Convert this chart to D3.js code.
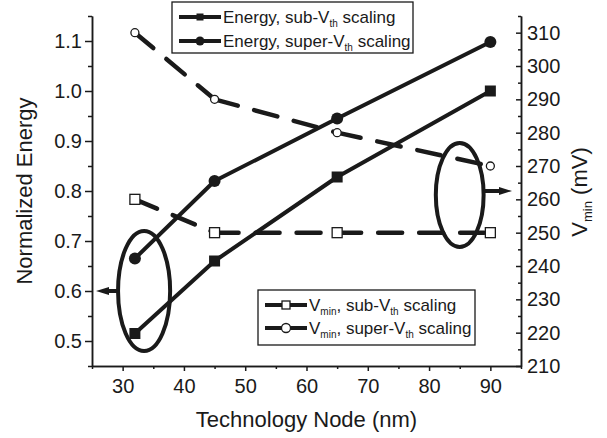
<!DOCTYPE html>
<html>
<head>
<meta charset="utf-8">
<script src="https://cdn.jsdelivr.net/npm/d3@7"></script>
<style>
body { margin: 0; background: #fff; }
svg { font-family: Arial, 'Liberation Sans', sans-serif; }
.axis path, .axis line { stroke: #1a1a1a; stroke-width: 1.5px; }
.axis text { font-size: 20px; fill: #1a1a1a; }
.legend-text { font-size: 17px; fill: #1a1a1a; }
.axis-title { font-size: 22px; fill: #1a1a1a; }
</style>
</head>
<body>
<svg width="607" height="438"></svg>
<script>
//Data.
var nodes = [32, 45, 65, 90];
var energySub = [0.515, 0.66, 0.828, 1.0];
var energySuper = [0.665, 0.82, 0.945, 1.098];
var vminSub = [260, 250, 250, 250];
var vminSuper = [310, 290, 280, 270];

//Tick values.
var xTicks = [30, 40, 50, 60, 70, 80, 90];
var energyTicks = [0.5, 0.6, 0.7, 0.8, 0.9, 1.0, 1.1];
var vminTicks = [210, 220, 230, 240, 250, 260, 270, 280, 290, 300, 310];

//Annotation ellipses, in data units (left one on the energy scale, right one on the Vmin scale).
var leftOval = {x: 33.5, rx: 4.25, y: 0.6, ry: 0.12};
var rightOval = {x: 85.0, rx: 3.9, y: 261.3, ry: 15.6};
var leftArrowY = 0.6, rightArrowY = 262.5;

var svg = d3.select('svg'),
	width = +svg.attr('width'), height = +svg.attr('height');
var margin = {top: 16, right: 86, bottom: 72, left: 92};
var widthInner = width - margin.left - margin.right,
	heightInner = height - margin.top - margin.bottom;
var inner = svg.append('g')
	.attr('transform', 'translate(' + margin.left + ',' + margin.top + ')');

var ink = '#1a1a1a';

//Scales.
var xScale = d3.scaleLinear().domain([25, 95]).range([0, widthInner]);
var yE = d3.scaleLinear().domain([0.45, 1.15]).range([heightInner, 0]);
var yV = d3.scaleLinear().domain([210, 315]).range([heightInner, 0]);

//Minor ticks sit halfway between the majors.
function minors(lo, hi, step, majors) {
	return d3.range(lo, hi + step / 2, step).filter(function(v) {
		return !majors.some(function(m) { return Math.abs(m - v) < step / 10; });
	});
}

//Axes: left (ticks out), bottom (ticks out), right (ticks in).
inner.append('g').attr('class', 'axis')
	.call(d3.axisLeft(yE).tickValues(minors(0.45, 1.15, 0.05, energyTicks)).tickSize(4).tickSizeOuter(0).tickFormat(''));
inner.append('g').attr('class', 'axis')
	.call(d3.axisLeft(yE).tickValues(energyTicks).tickSize(7).tickSizeOuter(0).tickPadding(3).tickFormat(d3.format('.1f')));

var xg = inner.append('g').attr('transform', 'translate(0,' + heightInner + ')');
xg.append('g').attr('class', 'axis')
	.call(d3.axisBottom(xScale).tickValues(minors(25, 95, 5, xTicks)).tickSize(3).tickSizeOuter(0).tickFormat(''));
xg.append('g').attr('class', 'axis')
	.call(d3.axisBottom(xScale).tickValues(xTicks).tickSize(5).tickSizeOuter(0).tickPadding(8));

var rg = inner.append('g').attr('transform', 'translate(' + widthInner + ',0)');
rg.append('g').attr('class', 'axis')
	.call(d3.axisRight(yV).tickValues(minors(210, 315, 5, vminTicks)).tickSize(-3).tickSizeOuter(0).tickFormat(''));
rg.append('g').attr('class', 'axis')
	.call(d3.axisRight(yV).tickValues(vminTicks).tickSize(-5).tickSizeOuter(0).tickPadding(6));

//Dashed Vmin series: each segment starts its own dash pattern at a point.
function dashedSeries(vals) {
	for (var i = 0; i < vals.length - 1; ++i) {
		inner.append('line')
			.attr('x1', xScale(nodes[i])).attr('y1', yV(vals[i]))
			.attr('x2', xScale(nodes[i + 1])).attr('y2', yV(vals[i + 1]))
			.style('stroke', ink).style('stroke-width', 4.5)
			.style('stroke-linecap', 'round')
			.style('stroke-dasharray', '24,17');
	}
}
dashedSeries(vminSub);
dashedSeries(vminSuper);

//Solid energy series.
var line = d3.line();
function solidSeries(vals) {
	inner.append('path')
		.attr('d', line(nodes.map(function(n, i) { return [xScale(n), yE(vals[i])]; })))
		.style('fill', 'none').style('stroke', ink).style('stroke-width', 4)
		.style('stroke-linejoin', 'round');
}
solidSeries(energySub);
solidSeries(energySuper);

//Markers.
function marker(g, kind, cx, cy, size) {
	if (kind === 'square' || kind === 'osquare') {
		g.append('rect')
			.attr('x', cx - size / 2).attr('y', cy - size / 2)
			.attr('width', size).attr('height', size)
			.style('fill', kind === 'square' ? ink : '#fff')
			.style('stroke', ink).style('stroke-width', kind === 'square' ? 0 : 1.3);
	} else {
		g.append('circle')
			.attr('cx', cx).attr('cy', cy).attr('r', size / 2)
			.style('fill', kind === 'circle' ? ink : '#fff')
			.style('stroke', ink).style('stroke-width', kind === 'circle' ? 0 : 1.3);
	}
}
nodes.forEach(function(n, i) {
	marker(inner, 'osquare', xScale(n), yV(vminSub[i]), 10);
	marker(inner, 'ocircle', xScale(n), yV(vminSuper[i]), 8);
	marker(inner, 'square', xScale(n), yE(energySub[i]), 11);
	marker(inner, 'circle', xScale(n), yE(energySuper[i]), 12);
});

//Ellipses and arrows pointing to each axis.
function oval(o, yS) {
	var cy = yS(o.y);
	inner.append('ellipse')
		.attr('cx', xScale(o.x)).attr('cy', cy)
		.attr('rx', xScale(o.x + o.rx) - xScale(o.x))
		.attr('ry', yS(o.y - o.ry) - cy)
		.style('fill', 'none').style('stroke', ink).style('stroke-width', 4);
}
oval(leftOval, yE);
oval(rightOval, yV);

function arrow(x1, x2, y) {
	var dir = x2 > x1 ? 1 : -1;
	inner.append('line')
		.attr('x1', x1).attr('x2', x2 - dir * 8).attr('y1', y).attr('y2', y)
		.style('stroke', ink).style('stroke-width', 4);
	inner.append('path')
		.attr('d', 'M' + x2 + ',' + y + 'L' + (x2 - dir * 13) + ',' + (y - 4) + 'L' + (x2 - dir * 13) + ',' + (y + 4) + 'Z')
		.style('fill', ink);
}
arrow(xScale(leftOval.x - leftOval.rx), xScale(25) + 4, yE(leftArrowY));
arrow(xScale(rightOval.x + rightOval.rx), xScale(95) - 9, yV(rightArrowY));

//Legends.
function legendText(g, x, y, parts) {
	var t = g.append('text').attr('class', 'legend-text').attr('x', x).attr('y', y);
	parts.forEach(function(p) {
		if (p.sub) {
			t.append('tspan').text(p.sub).style('font-size', '10px').attr('dy', 4);
		} else {
			var s = t.append('tspan').text(p.t);
			if (p.up) s.attr('dy', -4);
		}
	});
}
function legend(box, rows) {
	var g = svg.append('g');
	g.append('rect')
		.attr('x', box.x).attr('y', box.y).attr('width', box.w).attr('height', box.h)
		.style('fill', '#fff').style('stroke', ink).style('stroke-width', 1.3);
	rows.forEach(function(r, i) {
		var y = box.y + box.row0 + i * box.dy;
		g.append('line')
			.attr('x1', box.x + 7).attr('x2', box.x + 49).attr('y1', y).attr('y2', y)
			.style('stroke', ink).style('stroke-width', 4);
		marker(g, r.kind, box.x + 28, y, r.size);
		legendText(g, box.x + 51, y + 6, r.parts);
	});
}
legend({x: 172, y: 2, w: 241, h: 51, row0: 15, dy: 24}, [
	{kind: 'square', size: 7, parts: [{t: 'Energy, sub-V'}, {sub: 'th'}, {t: ' scaling', up: true}]},
	{kind: 'circle', size: 9, parts: [{t: 'Energy, super-V'}, {sub: 'th'}, {t: ' scaling', up: true}]}
]);
legend({x: 258, y: 290, w: 217, h: 55, row0: 15, dy: 23}, [
	{kind: 'osquare', size: 8, parts: [{t: 'V'}, {sub: 'min'}, {t: ', sub-V', up: true}, {sub: 'th'}, {t: ' scaling', up: true}]},
	{kind: 'ocircle', size: 9, parts: [{t: 'V'}, {sub: 'min'}, {t: ', super-V', up: true}, {sub: 'th'}, {t: ' scaling', up: true}]}
]);

//Axis titles.
svg.append('text').attr('class', 'axis-title')
	.attr('text-anchor', 'middle')
	.attr('x', margin.left + widthInner / 2).attr('y', 427)
	.text('Technology Node (nm)');
svg.append('text').attr('class', 'axis-title')
	.attr('text-anchor', 'middle')
	.attr('transform', 'translate(32,' + 191 + ') rotate(-90)')
	.text('Normalized Energy');
var vt = svg.append('text').attr('class', 'axis-title')
	.attr('text-anchor', 'middle')
	.attr('transform', 'translate(587,' + 192 + ') rotate(-90)');
vt.append('tspan').text('V');
vt.append('tspan').text('min').style('font-size', '13px').attr('dy', 5);
vt.append('tspan').text(' (mV)').attr('dy', -5);
</script>
</body>
</html>
